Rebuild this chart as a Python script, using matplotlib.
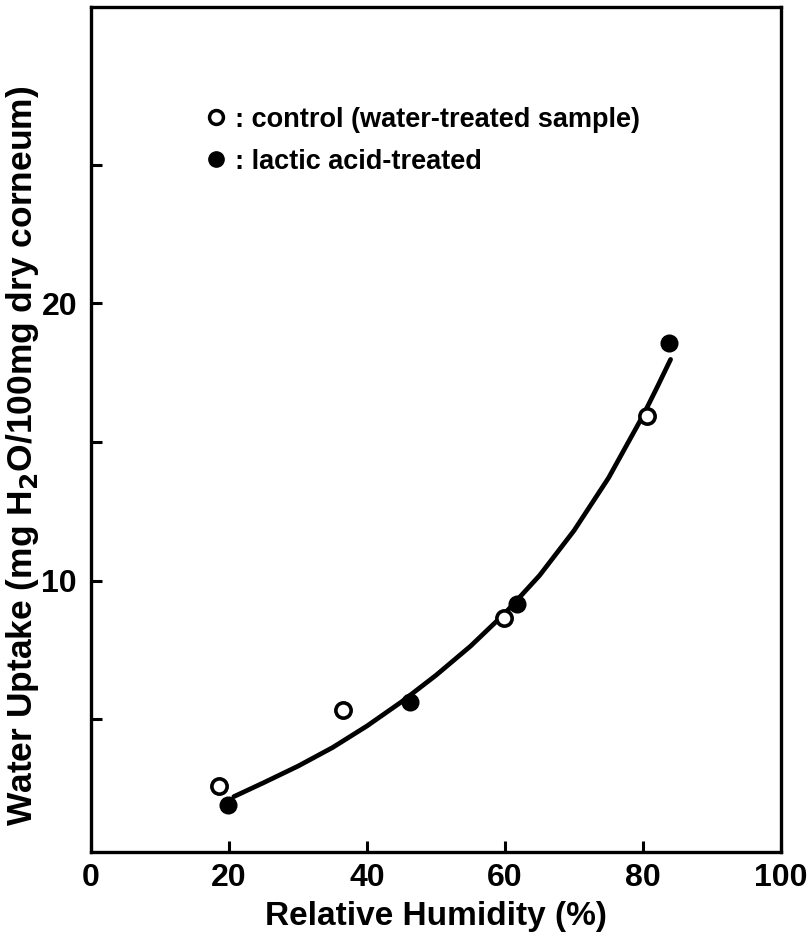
import matplotlib
matplotlib.use("Agg")
import matplotlib.pyplot as plt
from matplotlib.lines import Line2D

# 数据
rh_control = [18.6, 36.5, 59.9, 80.6]
uptake_control = [2.6, 5.34, 8.66, 15.92]
rh_lactic = [19.9, 46.2, 61.7, 83.7]
uptake_lactic = [1.88, 5.63, 9.17, 18.56]

# 拟合曲线（沿图中曲线读取的点）
curve_rh = [20.7, 25, 30, 35, 40, 45, 50, 55, 60, 65, 70, 75, 80, 82, 84]
curve_uptake = [2.2, 2.7, 3.3, 3.97, 4.75, 5.62, 6.58, 7.63, 8.82, 10.18,
                11.8, 13.7, 15.95, 16.95, 17.98]

xticks = [0, 20, 40, 60, 80, 100]
yticks_major = [10, 20]
yticks_minor = [5, 15, 25]

plt.rcParams['font.family'] = ['Liberation Sans', 'DejaVu Sans']
plt.rcParams['font.weight'] = 'bold'
plt.rcParams['mathtext.default'] = 'bf'

fig = plt.figure(figsize=(8.11, 9.32), dpi=100)
ax = fig.add_axes([0.1122, 0.0858, 0.8508, 0.9067])

ax.plot(curve_rh, curve_uptake, color='black', lw=3.4, solid_capstyle='round',
        solid_joinstyle='round', zorder=2)
ax.plot(rh_control, uptake_control, 'o', ms=11, mfc='white', mec='black', mew=2.6, zorder=3)
ax.plot(rh_lactic, uptake_lactic, 'o', ms=12, mfc='black', mec='black', zorder=3)

ax.set_xlim(0, 100)
ax.set_ylim(0.2, 30.7)
ax.set_xticks(xticks)
ax.set_yticks(yticks_major)
ax.set_yticks(yticks_minor, minor=True)

tick_font = dict(family=['Liberation Sans Narrow', 'Liberation Sans'], weight='bold', size=23)
ax.set_xticklabels([str(t) for t in xticks], fontdict=tick_font)
ax.set_yticklabels([str(t) for t in yticks_major], fontdict=tick_font)
ax.tick_params(which='both', direction='in', length=8, width=2.2, pad=8)
ax.tick_params(axis='y', pad=10)

for s in ax.spines.values():
    s.set_linewidth(2.4)

ax.set_xlabel('Relative Humidity (%)', fontsize=24, fontweight='bold', labelpad=6)
ax.set_ylabel('Water Uptake (mg H$_2$O/100mg dry corneum)', fontsize=25.5, fontweight='bold')
ax.yaxis.set_label_coords(-0.073, 0.469)

handles = [
    Line2D([], [], ls='none', marker='o', ms=10, mfc='white', mec='black', mew=2.5),
    Line2D([], [], ls='none', marker='o', ms=11, mfc='black', mec='black'),
]
labels = [': control (water-treated sample)', ': lactic acid-treated']
ax.legend(handles, labels, loc='upper left', bbox_to_anchor=(0.15, 0.895),
          frameon=False, fontsize=19.5, handlelength=0.8, handletextpad=0.3,
          labelspacing=0.6, borderaxespad=0)

fig.savefig('out.png', dpi=100)
